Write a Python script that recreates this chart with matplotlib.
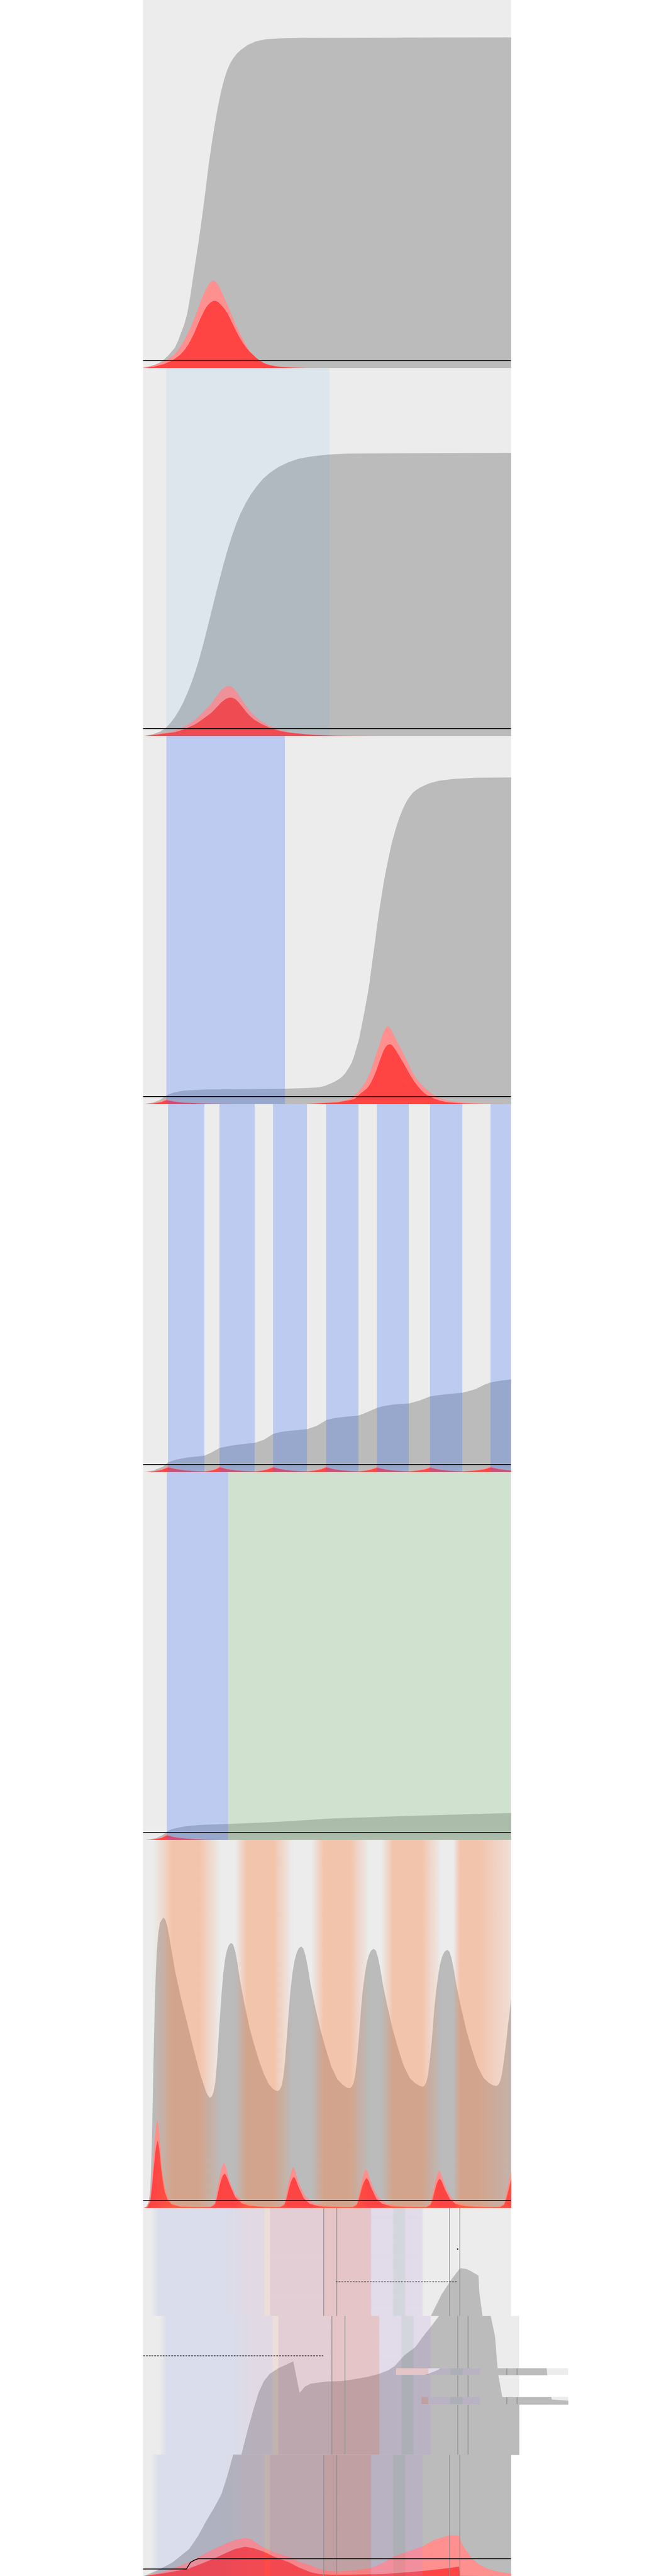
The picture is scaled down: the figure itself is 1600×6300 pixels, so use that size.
import numpy as np
import matplotlib
matplotlib.use('Agg')
import matplotlib.pyplot as plt

BG = '#ececec'
GRAY = '#bbbbbb'
PINK = '#ff9090'
RED = '#ff4444'

# ---------------- data (x = day 0..180, y = share 0..100) ----------------
# panel 1 - unmitigated
p1_gray_x = [0, 3, 6, 8, 10, 12, 14, 15.5, 17, 18.5, 20, 21.5, 23, 24.4, 26, 27.5, 29, 30.5, 32, 33.5, 35, 36.5, 38, 39.5, 41, 42.5, 44, 46, 48, 51, 55, 60, 70, 80, 180]
p1_gray_y = [0.2, 0.5, 1.0, 1.5, 2.3, 3.3, 4.6, 5.6, 7.4, 9.6, 11.8, 14.8, 19.5, 24.8, 30.5, 36, 42, 48.5, 55.3, 61, 66.3, 71, 75, 78.3, 80.9, 82.8, 84.2, 85.6, 86.6, 87.8, 88.8, 89.4, 89.7, 89.8, 89.9]
p1_pink_x = [0, 5, 10, 13, 15, 17, 18.5, 20, 21.8, 23.5, 25, 26.5, 28.2, 29.7, 31, 32.5, 34, 35.5, 37, 38.5, 40, 41, 42.5, 44, 45.7, 47.4, 49, 51, 52.5, 54, 55.8, 57.6, 60, 62, 65, 68, 73, 80, 90, 180]
p1_pink_y = [0.1, 0.7, 1.8, 2.8, 3.6, 4.9, 6.1, 7.5, 9.4, 11.5, 13.5, 15.7, 18.3, 20.3, 21.8, 23.2, 23.9, 23.5, 22.3, 20.6, 18.7, 17.5, 15.5, 13.5, 11.3, 9.4, 7.5, 5.6, 4.4, 3.4, 2.5, 1.8, 1.2, 0.9, 0.55, 0.35, 0.2, 0.08, 0, 0]
p1_red_x = [0, 5, 10, 13, 15, 17, 18.5, 20, 21.8, 23.5, 25, 26.5, 28.2, 30, 31.5, 33, 34.3, 35.5, 36.8, 38, 39.5, 41, 42.5, 44, 45.7, 47.4, 49, 50.5, 52, 53.8, 55.5, 57, 58.6, 60.2, 62.5, 65, 68, 72, 80, 90, 180]
p1_red_y = [0, 0.4, 1.1, 1.8, 2.4, 3.2, 3.9, 4.8, 6.2, 7.9, 9.6, 11.6, 13.8, 15.8, 17.1, 17.9, 18.3, 18.3, 17.9, 17.2, 16.3, 15.1, 13.5, 11.7, 9.8, 8.1, 6.7, 5.5, 4.5, 3.6, 2.7, 2.1, 1.5, 1.1, 0.75, 0.5, 0.3, 0.17, 0.05, 0, 0]

# panel 2 - mild distancing
p2_band = (11.3, 91.2)
p2_gray_x = [0, 5, 8.5, 11.3, 13.3, 15.5, 17.5, 19.5, 21.5, 23.5, 25.5, 27.5, 29.5, 31.5, 33.5, 35.5, 37.5, 39.5, 41.5, 43.5, 45.5, 47.5, 50, 52.5, 55.5, 58.5, 62, 66, 70.8, 76, 82, 90, 100, 130, 180]
p2_gray_y = [0, 0.6, 1.3, 2.4, 3.6, 5.2, 7, 9.1, 11.6, 14.4, 17.6, 21.2, 25.3, 29.7, 34.2, 38.7, 43, 47.2, 51.1, 54.6, 57.7, 60.4, 63.2, 65.6, 67.9, 69.9, 71.6, 73.1, 74.4, 75.4, 76, 76.5, 76.8, 76.9, 77]
p2_pink_x = [0, 5, 10, 13, 15.6, 18, 20, 22.5, 25, 27, 29, 31, 33.2, 35, 36.5, 38, 39.5, 41.4, 43, 44.5, 46, 47.8, 49.6, 51.3, 53, 54.5, 56, 57.5, 59, 61, 63, 65.5, 68.4, 71.5, 75, 80, 85, 95, 120, 180]
p2_pink_y = [0, 0.4, 0.9, 1.2, 1.5, 2.1, 2.6, 3.4, 4.3, 5.3, 6.4, 7.5, 8.8, 10.2, 11.3, 12.4, 13.2, 13.7, 13.5, 12.9, 11.8, 10.3, 8.8, 7.5, 6.3, 5.5, 4.8, 4.2, 3.7, 3.1, 2.5, 1.9, 1.5, 1.1, 0.8, 0.55, 0.4, 0.2, 0.05, 0]
p2_red_x = [0, 5, 10, 13, 15.6, 18, 20, 22.5, 25, 27, 29, 31, 33.2, 35, 36.5, 38, 39.5, 41, 42.4, 43.8, 45, 46.5, 48, 49.4, 50.8, 52.4, 54, 55.8, 57.5, 59.5, 61.4, 64, 67, 70.5, 74.3, 80, 85, 95, 110, 180]
p2_red_y = [0, 0.3, 0.7, 0.9, 1.1, 1.5, 1.9, 2.5, 3.1, 3.8, 4.6, 5.4, 6.3, 7.3, 8.2, 9.1, 9.8, 10.3, 10.5, 10.4, 10.1, 9.3, 8.3, 7.3, 6.3, 5.4, 4.6, 4, 3.4, 2.9, 2.4, 1.9, 1.4, 1.05, 0.8, 0.5, 0.3, 0.1, 0.02, 0]

# panel 3 - lockdown then release
p3_band = (11.3, 69.4)
p3_gray_x = [0, 5, 8, 11.3, 15, 20, 30, 50, 69, 80, 86, 89, 92, 94.2, 96, 97.5, 98.8, 100, 101, 102, 102.8, 103.6, 104.5, 105.5, 106.3, 107.2, 108.1, 109, 109.9, 110.7, 111.6, 112.5, 113.4, 114.2, 115.1, 116, 116.9, 117.7, 118.6, 119.5, 120.4, 121.2, 122.1, 123, 123.9, 124.8, 125.9, 127, 128.2, 129.4, 130.7, 132, 133.6, 135.3, 137.5, 140, 144.7, 152, 162.3, 180]
p3_gray_y = [0, 0.5, 1.1, 2.4, 3.2, 3.7, 4.0, 4.1, 4.2, 4.4, 4.6, 5.0, 5.7, 6.3, 6.9, 7.6, 8.4, 9.4, 10.3, 11.3, 12.5, 13.9, 15.6, 17.5, 19.7, 22.2, 24.8, 27.5, 30.2, 33, 36.8, 40.5, 44.1, 47.7, 51.2, 54.5, 57.6, 60.4, 63.1, 65.5, 67.9, 70, 72, 73.8, 75.5, 77, 78.7, 80.2, 81.6, 82.8, 83.8, 84.7, 85.4, 86, 86.6, 87.2, 87.9, 88.4, 88.7, 88.8]
p3_pink_x = [0, 5, 9, 11.3, 15, 20, 28, 38, 50, 80, 95, 98, 101.3, 103, 105, 106.7, 108.3, 109.7, 111, 112, 113, 114.2, 115.5, 116.5, 117.5, 118.5, 119.5, 120.5, 121.5, 122.5, 123.5, 124.7, 126, 127.7, 129.5, 131.2, 133, 135.2, 137.5, 140, 142.4, 145, 148, 152, 156.4, 165, 180]
p3_pink_y = [0, 0.25, 0.8, 1.5, 0.9, 0.5, 0.25, 0.1, 0.04, 0.07, 0.7, 1.0, 1.5, 2.3, 3.3, 4.4, 5.6, 7, 8.6, 10.2, 12, 14, 16, 17.8, 19.5, 20.6, 21.2, 20.9, 20, 18.9, 17.7, 16.4, 15.2, 13.2, 11.3, 9.3, 7.5, 5.9, 4.6, 3.4, 2.4, 1.7, 1.1, 0.75, 0.5, 0.2, 0.05]
p3_red_x = [0, 5, 9, 11.3, 15, 20, 28, 38, 50, 80, 95, 100, 102, 103.6, 105, 106.5, 108, 109.5, 110.8, 112, 113.1, 114.2, 115.3, 116.5, 117.5, 118.5, 119.6, 120.6, 121.6, 122.5, 123.6, 124.8, 126, 127.1, 128.8, 130.5, 132.3, 134.2, 136, 138, 140.2, 142.4, 145, 148, 155, 162, 180]
p3_red_y = [0, 0.2, 0.6, 1.1, 0.7, 0.4, 0.2, 0.08, 0.03, 0.05, 0.5, 1.0, 1.2, 1.5, 2.2, 3, 3.6, 4.3, 5.3, 6.5, 7.9, 9.4, 11.2, 13, 14.4, 15.5, 16.1, 16.3, 16.1, 15.5, 14.6, 13.5, 12.4, 11.4, 9.7, 8, 6.4, 5, 3.8, 2.8, 2.1, 1.5, 1, 0.6, 0.25, 0.1, 0]

# panel 4 - intermittent lockdowns
p4_bands = [(12.2, 30), (37.4, 54.6), (63.6, 80.2), (89.6, 105.4), (114.4, 130), (140.4, 156.2), (170, 181)]
p4_gray_x = [0, 5, 9.7, 12.2, 16, 21.5, 30, 33.2, 37.4, 41, 45, 54.7, 59, 63.5, 67, 70.8, 80.2, 84.9, 89.7, 93.5, 97.8, 105.4, 109.5, 114.4, 118, 122.5, 130.2, 135.3, 140.4, 144, 148.3, 156.2, 162.3, 167, 170, 175, 180]
p4_gray_y = [0, 0.5, 1.5, 2.7, 3.4, 4.0, 4.5, 5.3, 6.6, 7.0, 7.4, 8.0, 8.8, 10.4, 10.9, 11.2, 11.7, 12.6, 14.2, 14.7, 15.0, 15.4, 16.3, 17.5, 18.0, 18.4, 18.7, 19.5, 20.6, 20.9, 21.2, 21.6, 22.5, 23.8, 24.4, 24.9, 25.2]
p4_red_x = [0, 5, 9, 12.2, 16, 21, 26, 30, 33, 35.5, 37.4, 41, 46, 50.5, 54.6, 58, 61, 63.6, 67, 72, 76, 80.2, 83.5, 87, 89.6, 93, 98, 102, 105.4, 109, 112, 114.4, 118, 123, 127, 130, 134, 138, 140.4, 144, 149, 153, 156.2, 162, 167, 170, 174, 180]
p4_red_y = [0, 0.2, 0.6, 1.3, 0.8, 0.45, 0.28, 0.2, 0.4, 0.75, 1.3, 0.8, 0.45, 0.3, 0.2, 0.4, 0.75, 1.3, 0.8, 0.45, 0.3, 0.2, 0.4, 0.75, 1.3, 0.8, 0.45, 0.3, 0.2, 0.4, 0.75, 1.2, 0.75, 0.42, 0.28, 0.2, 0.4, 0.75, 1.2, 0.75, 0.42, 0.28, 0.2, 0.4, 0.75, 1.3, 0.8, 0.45]
p4_pink_y = [0, 0.25, 0.75, 1.6, 0.9, 0.5, 0.3, 0.22, 0.5, 0.95, 1.6, 0.9, 0.5, 0.32, 0.22, 0.5, 0.95, 1.6, 0.9, 0.5, 0.32, 0.22, 0.5, 0.95, 1.6, 0.9, 0.5, 0.32, 0.22, 0.5, 0.95, 1.5, 0.85, 0.47, 0.3, 0.22, 0.5, 0.95, 1.5, 0.85, 0.47, 0.3, 0.22, 0.5, 0.95, 1.6, 0.9, 0.5]

# panel 5 - lockdown then test & trace
p5_band_blue = (11.6, 41.6)
p5_band_green = (41.6, 181)
p5_gray_x = [0, 3, 6.4, 9.6, 11.6, 14, 17, 21.9, 30, 41.6, 66.5, 92, 130, 180]
p5_gray_y = [0, 0.2, 0.6, 1.4, 2.4, 3.0, 3.4, 3.9, 4.2, 4.4, 5.0, 5.9, 6.6, 7.4]
p5_red_x = [0, 5, 9, 11.6, 15, 20, 26, 32, 41.6, 50, 180]
p5_red_y = [0, 0.2, 0.6, 1.3, 0.8, 0.45, 0.25, 0.12, 0.05, 0, 0]
p5_pink_y = [0, 0.25, 0.75, 1.6, 0.95, 0.55, 0.3, 0.15, 0.06, 0, 0]

# panel 6 - seasonal waves
p6_gray_x = [0, 1.5, 2.5, 3, 3.4, 3.8, 4.2, 4.6, 5, 5.5, 6, 6.6, 7.3, 8.2, 9.8, 10.8, 11.8, 12.8, 14, 15.6, 18.5, 21.5, 24.5, 27.3, 29, 30.5, 31.5, 32.6,
             33.6, 34.4, 35.2, 35.9, 36.5, 37.1, 37.8, 38.5, 39.2, 40, 41, 42, 43, 44, 45, 46, 47.3, 49.5, 52, 54.5, 56.7, 59, 61.4, 63.5, 64.7, 65.8,
             66.8, 67.7, 68.5, 69.3, 69.9, 70.6, 71.3, 72.1, 72.9, 73.9, 75, 76, 77.2, 78.3, 79.3, 80.5, 81.8, 84.2, 86.7, 89.2, 92, 95, 97.5, 99.5, 101,
             102, 102.9, 103.7, 104.5, 105.2, 105.9, 106.6, 107.4, 108.3, 109.3, 110.4, 111.5, 112.7, 113.8, 114.8, 116, 117.3, 119.7, 122.2, 124.7, 127.5, 130.5, 133, 135, 136.7,
             137.7, 138.6, 139.4, 140.2, 141, 141.7, 142.4, 143.3, 144.2, 145.2, 146.3, 147.4, 148.7, 149.8, 150.8, 152, 153.3, 155.7, 158.2, 160.7, 163.5, 166.5, 169, 171, 172.8,
             173.8, 174.7, 175.5, 176.3, 177.1, 177.8, 178.5, 179.3, 180]
p6_gray_y = [0, 0.5, 1.5, 3, 5, 10, 18, 28, 40, 52, 62, 69.5, 74.5, 77.6, 79, 78.4, 76.5, 73.5, 69.5, 64.3, 57, 50.3, 43.5, 37.5, 34.5, 32, 30.7, 30,
             30.4, 31.6, 34, 38.3, 43, 48.5, 54.3, 59.6, 63.9, 67.6, 70.2, 71.6, 72.1, 71.6, 69.8, 66.8, 62, 55.5, 49, 44, 40, 36.5, 33.7, 32.4, 32, 31.8,
             32.2, 33.3, 35.6, 39.6, 44, 49, 54.5, 59.5, 63.5, 67, 69.3, 70.6, 71.1, 70.6, 68.8, 65.5, 61, 54.5, 48.5, 43.5, 38.5, 35, 33.6, 32.8, 32.6,
             33, 34, 36.2, 40, 44.3, 49.2, 54.4, 59.2, 63.1, 66.5, 68.8, 70, 70.5, 70, 68.3, 65, 60.6, 54.2, 48.3, 43.4, 38.6, 35.3, 34, 33.3, 33,
             33.4, 34.4, 36.5, 40.2, 44.4, 49.2, 54.3, 59, 62.9, 66.2, 68.5, 69.7, 70.2, 69.7, 68, 64.7, 60.3, 54, 48.1, 43.3, 38.6, 35.4, 34.1, 33.4, 33.2,
             33.6, 34.6, 36.5, 39.5, 43, 46.3, 50, 53.5, 57]
p6_pink_x = [0, 2, 3.5, 4, 4.5, 5, 5.5, 6.2, 6.8, 7.4, 8, 8.5, 9, 9.7, 10.5, 12, 14, 18, 25,
             33, 35, 35.6, 36.1, 36.8, 37.5, 38.4, 39.3, 39.9, 40.5, 41.2, 42, 43.2, 45.5, 49.6, 55, 65,
             67, 69, 69.6, 70.2, 70.9, 71.6, 72.4, 73.2, 73.8, 74.4, 75.1, 75.9, 77.1, 79.4, 83.5, 89, 100,
             102.5, 104.5, 105.1, 105.8, 106.5, 107.2, 108, 108.8, 109.4, 110, 110.7, 111.5, 112.7, 115, 119, 125, 136,
             138.5, 140.5, 141.1, 141.7, 142.4, 143, 143.8, 144.6, 145.2, 145.8, 146.5, 147.3, 148.5, 150.8, 155, 161, 172,
             174.5, 176.5, 177.1, 177.7, 178.4, 179, 180]
p6_pink_y = [0, 0.5, 3, 6, 10, 14, 18, 22, 24.1, 22.5, 19, 15.5, 12, 8.5, 6, 3, 1.3, 0.6, 0.4,
             0.5, 1.5, 3, 5, 7, 9, 11, 12.3, 12, 11, 9.5, 8, 6, 3.5, 1.5, 0.6, 0.4,
             0.5, 1.4, 2.8, 4.5, 6.4, 8.2, 9.9, 11.2, 10.9, 10, 8.6, 7.3, 5.5, 3.2, 1.4, 0.6, 0.4,
             0.5, 1.3, 2.7, 4.3, 6, 7.8, 9.4, 10.6, 10.3, 9.5, 8.2, 7, 5.2, 3, 1.3, 0.6, 0.4,
             0.5, 1.3, 2.6, 4.2, 5.9, 7.6, 9.1, 10.3, 10, 9.2, 8, 6.8, 5, 2.9, 1.3, 0.6, 0.4,
             0.5, 1.3, 2.6, 4.2, 5.9, 7.6, 10]
p6_red_x = [0, 2, 3.5, 4, 4.5, 5, 5.5, 6.2, 7, 7.6, 8.2, 8.7, 9.3, 10, 10.5, 12, 14, 18, 25,
            33, 35, 35.8, 36.5, 37.2, 38, 38.9, 39.7, 40.3, 41, 42, 43, 45, 48, 52, 60,
            67, 69, 69.8, 70.5, 71.2, 72, 72.8, 73.6, 74.2, 74.8, 75.6, 76.6, 78.5, 81.5, 86, 95,
            102.5, 104.5, 105.3, 106, 106.7, 107.5, 108.4, 109.2, 109.8, 110.4, 111.2, 112.2, 114, 117, 121.5, 130,
            138.5, 140.5, 141.3, 142, 142.7, 143.4, 144.2, 145, 145.6, 146.2, 147, 148, 150, 153, 157.5, 166,
            174.5, 176.5, 177.3, 178, 178.7, 179.3, 180]
p6_red_y = [0, 0.3, 2, 4.5, 7, 10, 13, 16.5, 18.4, 17, 14, 11, 8.5, 6, 4.5, 2.2, 1, 0.4, 0.3,
            0.3, 1, 2.3, 4, 5.8, 7.5, 8.8, 9.4, 9.1, 8.3, 6.9, 5.5, 3, 1.4, 0.6, 0.3,
            0.3, 0.9, 2.1, 3.6, 5.2, 6.8, 7.9, 8.5, 8.2, 7.5, 6.2, 5, 2.7, 1.2, 0.5, 0.3,
            0.3, 0.9, 2.1, 3.5, 5, 6.5, 7.6, 8.2, 7.9, 7.3, 6, 4.8, 2.6, 1.2, 0.5, 0.3,
            0.3, 0.9, 2, 3.4, 4.9, 6.4, 7.5, 8.0, 7.7, 7.1, 5.9, 4.7, 2.5, 1.1, 0.5, 0.3,
            0.3, 0.9, 2, 3.4, 4.9, 6.3, 7.8]
p6_shade_x = [0, 5, 14.4, 27.4, 38, 45, 50.8, 63.8, 73.2, 82.5, 88.4, 101.2, 110.6, 116.6, 122.4, 136.5, 145.8, 151.8, 155.2, 164.6, 180]
p6_shade_a = [0, 0, 1, 1, 0, 0, 1, 1, 0, 0, 1, 1, 0, 0, 1, 1, 0, 0, 1, 1, 0.35]

# panel 7 - mixed policies
p7_gray_x = [0, 6.6, 14.2, 22.5, 27, 30.6, 34.6, 38.2, 41, 44, 47.2, 50, 52.5, 55, 57.9, 62, 66, 69.4, 72.5, 75, 77.8, 85.5, 93, 100, 106, 111.5, 116, 119, 123.7, 129, 133, 137, 140.7, 146, 150.6, 155, 158, 160, 164, 164.4, 166, 168.1, 169.6, 171.9, 180]
p7_gray_y = [0, 1.5, 3.7, 7.4, 11.1, 14.8, 18.5, 22.2, 27, 33, 40, 45.5, 50, 53, 55, 56.5, 57.5, 58.4, 49.8, 51.5, 52.3, 52.9, 53, 53.6, 54.2, 55, 56, 57.1, 60, 62.2, 65.2, 68, 70.7, 76.6, 80.5, 83.7, 83.5, 83, 81.7, 77.3, 70.7, 65.2, 55, 48, 47.7]
p7_pink_x = [0, 10, 21.9, 28, 34.6, 40, 45, 49.9, 53, 56, 58.8, 61, 64, 67, 71.6, 76, 81.8, 85, 89.5, 95.9, 103, 111.2, 117, 122.6, 130, 136.6, 142, 149.4, 154.5, 155, 155.8, 158, 161, 164, 168.6, 174, 180]
p7_pink_y = [0, 1.2, 3.7, 5.5, 7.4, 8.8, 9.9, 10.4, 10, 8.8, 7.8, 7.3, 6.5, 6, 5.2, 4, 3, 2.2, 1.5, 1.3, 1.6, 2.2, 3.5, 5.4, 6.8, 8.1, 9.8, 11.1, 11.1, 10.5, 8.9, 7, 4.8, 3.3, 2, 1.2, 0.7]
p7_red_x = [0, 10, 21.9, 28, 34.6, 40, 45, 49.9, 54, 58.8, 64, 71.6, 76, 81.8, 86, 92, 100, 117.6, 130, 140, 149.4, 154.5, 154.9, 180]
p7_red_y = [0, 0.8, 2, 3.3, 4.8, 6.2, 7.4, 8, 7.6, 6.7, 5.3, 3.7, 2.4, 1.1, 0.6, 0.4, 0.4, 0.6, 1.1, 1.6, 2.2, 2.6, 0.1, 0]
p7_cap_x = [0, 21.2, 23.2, 25.1, 27, 180]
p7_cap_y = [1.9, 1.9, 3.7, 4.3, 4.7, 4.7]
# policy shading: day, colour, strength
p7_shade_x = [0, 3.8, 7.6, 40, 50.4, 59.2, 59.6, 62, 62.2, 88.4, 88.8, 111.4, 111.8, 122.2, 122.6, 128.2, 128.6, 136.6, 137, 180]
p7_shade_c = ['#5a6ee6', '#5a6ee6', '#5a6ee6', '#5a6ee6', '#a070b8', '#a070b8', '#ff7850', '#ff7850', '#c85a82', '#c85a82',
              '#d2505a', '#d2505a', '#b48ce6', '#b48ce6', '#7882aa', '#7882aa', '#b48ce6', '#b48ce6', '#b48ce6', '#b48ce6']
p7_shade_a = [0, 0, 0.12, 0.12, 0.14, 0.14, 0.12, 0.12, 0.2, 0.2, 0.25, 0.25, 0.18, 0.18, 0.2, 0.2, 0.18, 0.18, 0, 0]
p7_vlines = [88.4, 94.8, 150, 155]
p7_dash1 = ([94.2, 153.6], [80, 80])
p7_dash2 = ([0, 84], [59.9, 59.9])


# ---------------- drawing helpers ----------------
fig = plt.figure(figsize=(16, 63), dpi=100)
FW, FH = 1600, 6300


def add_ax(px_left, px_top, px_w, px_h, xlim=(0, 180), ylim=(0, 100)):
    ax = fig.add_axes([px_left / FW, 1 - (px_top + px_h) / FH, px_w / FW, px_h / FH])
    ax.set_xlim(*xlim)
    ax.set_ylim(*ylim)
    ax.set_facecolor(BG)
    for s in ax.spines.values():
        s.set_visible(False)
    ax.set_xticks([])
    ax.set_yticks([])
    return ax


def draw_curves(ax, gx, gy, px_, py_, rx, ry):
    ax.fill_between(gx, 0, gy, color=GRAY, lw=0, zorder=2)
    ax.fill_between(px_, 0, py_, color=PINK, lw=0, zorder=3)
    ax.fill_between(rx, 0, ry, color=RED, lw=0, zorder=4)


def gradient(ax, xs, colors, alphas, zorder=5):
    grid = np.linspace(0, 180, 900)
    rgba = np.zeros((1, len(grid), 4))
    rgb = np.array([matplotlib.colors.to_rgb(c) for c in colors])
    for k in range(3):
        rgba[0, :, k] = np.interp(grid, xs, rgb[:, k])
    rgba[0, :, 3] = np.interp(grid, xs, alphas)
    ax.imshow(rgba, extent=(0, 180, 0, 100), aspect='auto', interpolation='bilinear', zorder=zorder)


def cap_line(ax, x=(0, 180), y=(2, 2)):
    ax.plot(x, y, color='black', lw=1.5, zorder=7, solid_capstyle='butt')


# panel 1
ax = add_ax(350, 0, 900, 900)
draw_curves(ax, p1_gray_x, p1_gray_y, p1_pink_x, p1_pink_y, p1_red_x, p1_red_y)
cap_line(ax)

# panel 2
ax = add_ax(350, 900, 900, 900)
draw_curves(ax, p2_gray_x, p2_gray_y, p2_pink_x, p2_pink_y, p2_red_x, p2_red_y)
ax.axvspan(*p2_band, color=(53 / 255, 163 / 255, 1.0), alpha=0.08, lw=0, zorder=5)
cap_line(ax)

# panel 3
ax = add_ax(350, 1800, 900, 900)
draw_curves(ax, p3_gray_x, p3_gray_y, p3_pink_x, p3_pink_y, p3_red_x, p3_red_y)
ax.axvspan(*p3_band, color=(55 / 255, 110 / 255, 1.0), alpha=0.26, lw=0, zorder=5)
cap_line(ax)

# panel 4
ax = add_ax(350, 2700, 900, 900)
draw_curves(ax, p4_gray_x, p4_gray_y, p4_red_x, p4_pink_y, p4_red_x, p4_red_y)
for b in p4_bands:
    ax.axvspan(*b, color=(55 / 255, 110 / 255, 1.0), alpha=0.26, lw=0, zorder=5)
cap_line(ax)

# panel 5
ax = add_ax(350, 3600, 900, 900)
draw_curves(ax, p5_gray_x, p5_gray_y, p5_red_x, p5_pink_y, p5_red_x, p5_red_y)
ax.axvspan(*p5_band_blue, color=(55 / 255, 110 / 255, 1.0), alpha=0.26, lw=0, zorder=5)
ax.axvspan(*p5_band_green, color=(128 / 255, 194 / 255, 125 / 255), alpha=0.26, lw=0, zorder=5)
cap_line(ax)

# panel 6
ax = add_ax(350, 4500, 900, 900)
draw_curves(ax, p6_gray_x, p6_gray_y, p6_pink_x, p6_pink_y, p6_red_x, p6_red_y)
gradient(ax, p6_shade_x, ['#ff7d3a'] * len(p6_shade_x), [a * 0.36 for a in p6_shade_a])
cap_line(ax)


# panel 7 (with the render glitch: shifted slices)
def draw_p7(ax):
    draw_curves(ax, p7_gray_x, p7_gray_y, p7_pink_x, p7_pink_y, p7_red_x, p7_red_y)
    gradient(ax, p7_shade_x, p7_shade_c, p7_shade_a)
    for v in p7_vlines:
        ax.axvline(v, color='#8c8c8c', lw=1.2, zorder=6)
    ax.plot(*p7_dash1, color='black', lw=1.0, ls=(0, (3, 2)), zorder=7)
    ax.plot([153.8], [88.9], marker='s', ms=1.2, color='black', zorder=7)
    ax.plot(*p7_dash2, color='black', lw=1.0, ls=(0, (3, 2)), zorder=7)
    ax.plot(p7_cap_x, p7_cap_y, color='black', lw=1.5, zorder=7)


ax = add_ax(350, 5400, 900, 900)
draw_p7(ax)

# middle slice drawn 20 px to the right
top, bot = 5664, 6003
ax = add_ax(370, top, 900, bot - top, ylim=((6300 - bot) / 9, (6300 - top) / 9))
draw_p7(ax)

# two thin slices pushed further right
for (t, b, clip) in [(5792, 5808, 969), (5862, 5880, 1031)]:
    shift = 140
    x0 = (clip - shift - 350) / 5
    ax = add_ax(clip, t, 1250 + shift - clip, b - t, xlim=(x0, 180), ylim=((6300 - b) / 9, (6300 - t) / 9))
    draw_p7(ax)

fig.savefig('out.png', dpi=100, facecolor='white')
